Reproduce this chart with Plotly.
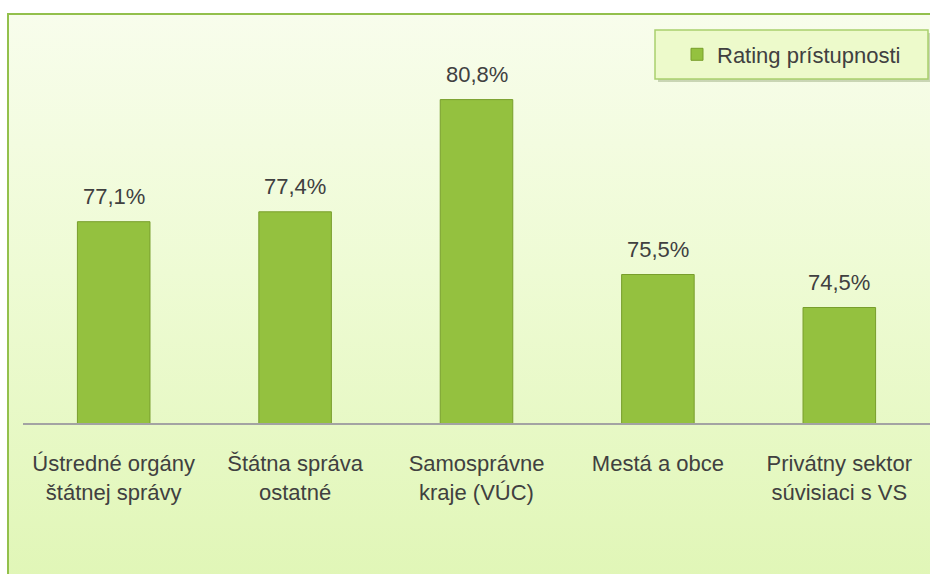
import base64
import plotly.graph_objects as go

categories = [
    "Ústredné orgány<br>štátnej správy",
    "Štátna správa<br>ostatné",
    "Samosprávne<br>kraje (VÚC)",
    "Mestá a obce",
    "Privátny sektor<br>súvisiaci s VS",
]
values = [77.1, 77.4, 80.8, 75.5, 74.5]
series_name = "Rating prístupnosti"
y_range = [71, 82]

FONT = "Liberation Sans, Arial, sans-serif"
TXT = "#404040"

# figure geometry (pixels)
W, H = 930, 574
L, R, T, B = 23, 0, 60, 151
pw, ph = W - L - R, H - T - B

def px_to_paper_x(px):
    return (px - L) / pw

def px_to_paper_y(py):
    return (H - B - py) / ph

# background: framed panel with vertical light-green gradient
svg = f"""<svg xmlns='http://www.w3.org/2000/svg' width='{W}' height='{H}' viewBox='0 0 {W} {H}' preserveAspectRatio='none'>
<defs><linearGradient id='g' x1='0' y1='0' x2='0' y2='1'>
<stop offset='0' stop-color='#f8fdec'/><stop offset='0.45' stop-color='#eefbd4'/><stop offset='1' stop-color='#e0f6b6'/>
</linearGradient></defs>
<rect x='0' y='0' width='{W}' height='{H}' fill='#ffffff'/>
<rect x='8' y='14' width='{W + 10}' height='{H}' fill='url(#g)' stroke='#93c04c' stroke-width='2'/>
</svg>"""
svg_uri = "data:image/svg+xml;base64," + base64.b64encode(svg.encode()).decode()

fig = go.Figure()
fig.add_trace(go.Bar(
    x=categories, y=values, name=series_name, width=0.4,
    marker=dict(color="#94c13f", line=dict(color="#789e2c", width=1)),
    showlegend=True, hoverinfo="x+y",
))

for c, v in zip(categories, values):
    fig.add_annotation(
        x=c, y=v, text=f"{v:.1f}%".replace(".", ","), showarrow=False,
        yanchor="bottom", yshift=11, font=dict(family=FONT, size=22, color=TXT),
    )

# legend box (decorative frame behind legend)
lx0, lx1, ly0, ly1 = px_to_paper_x(655), px_to_paper_x(928), px_to_paper_y(79), px_to_paper_y(30)
sx, sy = 3 / pw, 3 / ph
fig.add_shape(type="rect", xref="paper", yref="paper", x0=lx0 + sx, x1=lx1 + sx, y0=ly0 - sy, y1=ly1 - sy,
              fillcolor="rgba(120,140,90,0.35)", line=dict(width=0), layer="above")
fig.add_shape(type="rect", xref="paper", yref="paper", x0=lx0, x1=lx1, y0=ly0, y1=ly1,
              fillcolor="#edfacb", line=dict(color="#a9cf6e", width=1.5), layer="above")

fig.update_layout(
    width=W, height=H,
    margin=dict(l=L, r=R, t=T, b=B, pad=0),
    paper_bgcolor="rgba(0,0,0,0)",
    plot_bgcolor="#ffffff",
    font=dict(family=FONT, size=22, color=TXT),
    showlegend=True,
    legend=dict(
        x=(lx0 + lx1) / 2, y=(ly0 + ly1) / 2, xanchor="center", yanchor="middle",
        bgcolor="rgba(0,0,0,0)", borderwidth=0,
        font=dict(family=FONT, size=22, color=TXT),
    ),
    images=[dict(
        source=svg_uri, xref="paper", yref="paper",
        x=px_to_paper_x(0), y=px_to_paper_y(0),
        sizex=W / pw, sizey=H / ph, sizing="stretch",
        xanchor="left", yanchor="top", layer="below",
    )],
    xaxis=dict(
        type="category", range=[-0.5, 4.5],
        showline=True, linecolor="#a3a3a3", linewidth=2,
        ticks="outside", ticklen=20, tickcolor="rgba(0,0,0,0)",
        tickfont=dict(family=FONT, size=22, color=TXT),
        showgrid=False, zeroline=False, fixedrange=True,
    ),
    yaxis=dict(
        range=y_range, visible=False, showgrid=False, zeroline=False, fixedrange=True,
    ),
    bargap=0.6,
)

fig.write_html(
    "out.html",
    config={"displayModeBar": False},
    post_script="document.body.style.margin='0';document.body.style.overflow='hidden';",
)
